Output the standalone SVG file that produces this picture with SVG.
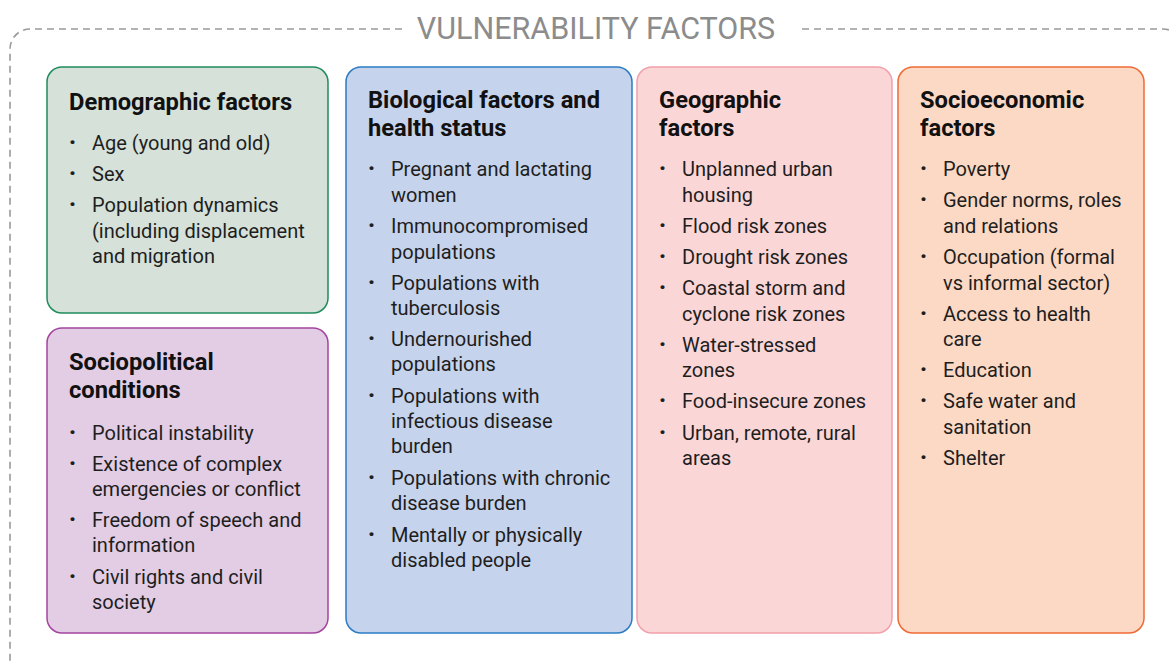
<svg xmlns="http://www.w3.org/2000/svg" width="1170" height="661" viewBox="0 0 1170 661">
<style>
.frame{fill:none;stroke:#9a9a9a;stroke-width:1.6;stroke-dasharray:7 5}
.title{font-family:Roboto,"Liberation Sans",sans-serif;font-size:30.5px;fill:#8c8c8c;text-anchor:middle}
.box{stroke-width:1.5}
.h{font-family:Roboto,"Liberation Sans",sans-serif;font-size:23.7px;font-weight:bold;fill:#111}
.t{font-family:Roboto,"Liberation Sans",sans-serif;font-size:20px;fill:#1e1e1e}
.b{font-family:Roboto,"Liberation Sans",sans-serif;font-size:22px;font-weight:900;fill:#1e1e1e}
</style>
<rect width="1170" height="661" fill="#fff"/>
<g id="frame">
<path class="frame" d="M402,29 H30 A20,20 0 0 0 10,49 V690"/>
<path class="frame" d="M802,29 H1163 A20,20 0 0 1 1183,49 V690"/>
<text class="title" x="596" y="39">VULNERABILITY FACTORS</text>
</g>
<g id="demographic">
<rect class="box" x="47" y="67" width="281" height="246" rx="15" fill="#d5e1d9" stroke="#1f8c5c"/>
<text class="h" x="69" y="110">Demographic factors</text>
<text class="b" x="69" y="150">·</text><text class="t" x="92" y="150">Age (young and old)</text>
<text class="b" x="69" y="181">·</text><text class="t" x="92" y="181">Sex</text>
<text class="b" x="69" y="212">·</text><text class="t" x="92" y="212">Population dynamics</text>
<text class="t" x="92" y="238">(including displacement</text>
<text class="t" x="92" y="263">and migration</text>
</g>
<g id="sociopolitical">
<rect class="box" x="47" y="328" width="281" height="305" rx="15" fill="#e2cde4" stroke="#a4449f"/>
<text class="h" x="69" y="370">Sociopolitical</text>
<text class="h" x="69" y="398">conditions</text>
<text class="b" x="69" y="440">·</text><text class="t" x="92" y="440">Political instability</text>
<text class="b" x="69" y="471">·</text><text class="t" x="92" y="471">Existence of complex</text>
<text class="t" x="92" y="496">emergencies or conflict</text>
<text class="b" x="69" y="527">·</text><text class="t" x="92" y="527">Freedom of speech and</text>
<text class="t" x="92" y="552">information</text>
<text class="b" x="69" y="584">·</text><text class="t" x="92" y="584">Civil rights and civil</text>
<text class="t" x="92" y="609">society</text>
</g>
<g id="biological">
<rect class="box" x="346" y="67" width="286" height="566" rx="15" fill="#c6d3ec" stroke="#2a7cc4"/>
<text class="h" x="368" y="108">Biological factors and</text>
<text class="h" x="368" y="136">health status</text>
<text class="b" x="368" y="176">·</text><text class="t" x="391" y="176">Pregnant and lactating</text>
<text class="t" x="391" y="202">women</text>
<text class="b" x="368" y="233">·</text><text class="t" x="391" y="233">Immunocompromised</text>
<text class="t" x="391" y="259">populations</text>
<text class="b" x="368" y="290">·</text><text class="t" x="391" y="290">Populations with</text>
<text class="t" x="391" y="315">tuberculosis</text>
<text class="b" x="368" y="346">·</text><text class="t" x="391" y="346">Undernourished</text>
<text class="t" x="391" y="371">populations</text>
<text class="b" x="368" y="403">·</text><text class="t" x="391" y="403">Populations with</text>
<text class="t" x="391" y="428">infectious disease</text>
<text class="t" x="391" y="453">burden</text>
<text class="b" x="368" y="485">·</text><text class="t" x="391" y="485">Populations with chronic</text>
<text class="t" x="391" y="510">disease burden</text>
<text class="b" x="368" y="542">·</text><text class="t" x="391" y="542">Mentally or physically</text>
<text class="t" x="391" y="567">disabled people</text>
</g>
<g id="geographic">
<rect class="box" x="637" y="67" width="255" height="566" rx="15" fill="#fbd6d7" stroke="#f2a0ab"/>
<text class="h" x="659" y="108">Geographic</text>
<text class="h" x="659" y="136">factors</text>
<text class="b" x="659" y="176">·</text><text class="t" x="682" y="176">Unplanned urban</text>
<text class="t" x="682" y="202">housing</text>
<text class="b" x="659" y="233">·</text><text class="t" x="682" y="233">Flood risk zones</text>
<text class="b" x="659" y="264">·</text><text class="t" x="682" y="264">Drought risk zones</text>
<text class="b" x="659" y="295">·</text><text class="t" x="682" y="295">Coastal storm and</text>
<text class="t" x="682" y="321">cyclone risk zones</text>
<text class="b" x="659" y="352">·</text><text class="t" x="682" y="352">Water-stressed</text>
<text class="t" x="682" y="377">zones</text>
<text class="b" x="659" y="408">·</text><text class="t" x="682" y="408">Food-insecure zones</text>
<text class="b" x="659" y="440">·</text><text class="t" x="682" y="440">Urban, remote, rural</text>
<text class="t" x="682" y="465">areas</text>
</g>
<g id="socioeconomic">
<rect class="box" x="898" y="67" width="246" height="566" rx="15" fill="#fcd9c4" stroke="#ee6b36"/>
<text class="h" x="920" y="108">Socioeconomic</text>
<text class="h" x="920" y="136">factors</text>
<text class="b" x="920" y="176">·</text><text class="t" x="943" y="176">Poverty</text>
<text class="b" x="920" y="207">·</text><text class="t" x="943" y="207">Gender norms, roles</text>
<text class="t" x="943" y="233">and relations</text>
<text class="b" x="920" y="264">·</text><text class="t" x="943" y="264">Occupation (formal</text>
<text class="t" x="943" y="290">vs informal sector)</text>
<text class="b" x="920" y="321">·</text><text class="t" x="943" y="321">Access to health</text>
<text class="t" x="943" y="346">care</text>
<text class="b" x="920" y="377">·</text><text class="t" x="943" y="377">Education</text>
<text class="b" x="920" y="408">·</text><text class="t" x="943" y="408">Safe water and</text>
<text class="t" x="943" y="434">sanitation</text>
<text class="b" x="920" y="465">·</text><text class="t" x="943" y="465">Shelter</text>
</g>
<g id="connectors"></g>
</svg>
